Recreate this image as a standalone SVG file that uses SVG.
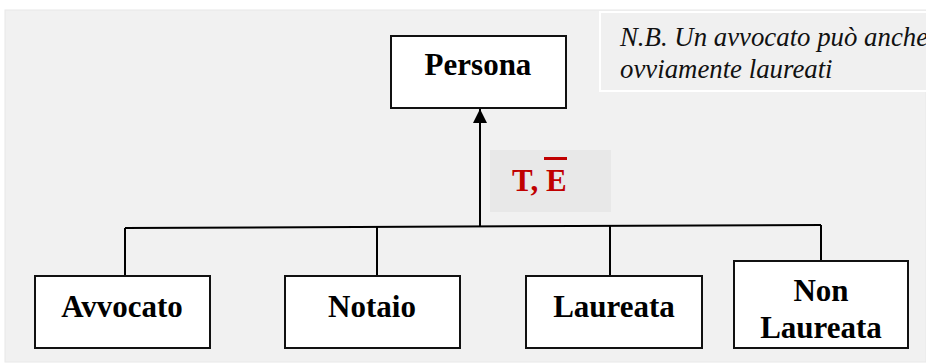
<svg xmlns="http://www.w3.org/2000/svg" width="926" height="363" viewBox="0 0 926 363">
  <style>
    .box { fill: #ffffff; stroke: #111111; stroke-width: 2; }
    .lbl { font-family: "Liberation Serif", "Times New Roman", serif; font-weight: bold; font-size: 31px; fill: #000000; text-anchor: middle; }
    .link { fill: none; stroke: #000000; stroke-width: 2; }
    .note { font-family: "Liberation Serif", "Times New Roman", serif; font-style: italic; font-size: 26.8px; fill: #111111; }
  </style>
  <defs>
    <marker id="arrow" viewBox="0 0 14 14" markerWidth="14" markerHeight="14" refX="14" refY="7" orient="auto" markerUnits="userSpaceOnUse">
      <path d="M0,0 L14,7 L0,14 Z" fill="#000000"/>
    </marker>
  </defs>

  <!-- canvas -->
  <rect x="5" y="10" width="921" height="352" fill="#f1f1f1" stroke="#e8e8e8" stroke-width="1"/>

  <!-- side note -->
  <g id="note">
    <rect x="600" y="12" width="330" height="79" fill="#f0f0f0" stroke="#ffffff" stroke-width="2"/>
    <text class="note" x="620" y="46">N.B. Un avvocato può anche</text>
    <text class="note" x="620" y="78">ovviamente laureati</text>
  </g>

  <!-- connectors -->
  <g id="connectors">
    <path class="link" d="M125,228 L821,225"/>
    <path class="link" d="M125,228 L125,276"/>
    <path class="link" d="M377,227 L377,276"/>
    <path class="link" d="M610,226 L610,276"/>
    <path class="link" d="M821,225 L821,261"/>
    <path class="link" d="M480,227 L480,109" marker-end="url(#arrow)"/>
  </g>

  <!-- generalization label -->
  <g id="constraint">
    <rect x="490" y="150" width="121" height="62" fill="#e8e8e8"/>
    <text x="512" y="191" font-family="Liberation Serif, Times New Roman, serif" font-weight="bold" font-size="31" fill="#c00000">T, E</text>
    <line x1="544" y1="158.5" x2="567" y2="158.5" stroke="#c00000" stroke-width="3"/>
  </g>

  <g id="persona">
    <rect class="box" x="391" y="36" width="175" height="72"/>
    <text class="lbl" x="478" y="75">Persona</text>
  </g>

  <g id="avvocato">
    <rect class="box" x="35" y="276" width="175" height="72"/>
    <text class="lbl" x="122" y="317">Avvocato</text>
  </g>

  <g id="notaio">
    <rect class="box" x="285" y="276" width="175" height="72"/>
    <text class="lbl" x="372" y="317">Notaio</text>
  </g>

  <g id="laureata">
    <rect class="box" x="526" y="276" width="176" height="72"/>
    <text class="lbl" x="614" y="317">Laureata</text>
  </g>

  <g id="non-laureata">
    <rect class="box" x="734" y="261" width="174" height="87"/>
    <text class="lbl" x="821" y="301">Non</text>
    <text class="lbl" x="821" y="338">Laureata</text>
  </g>
</svg>
